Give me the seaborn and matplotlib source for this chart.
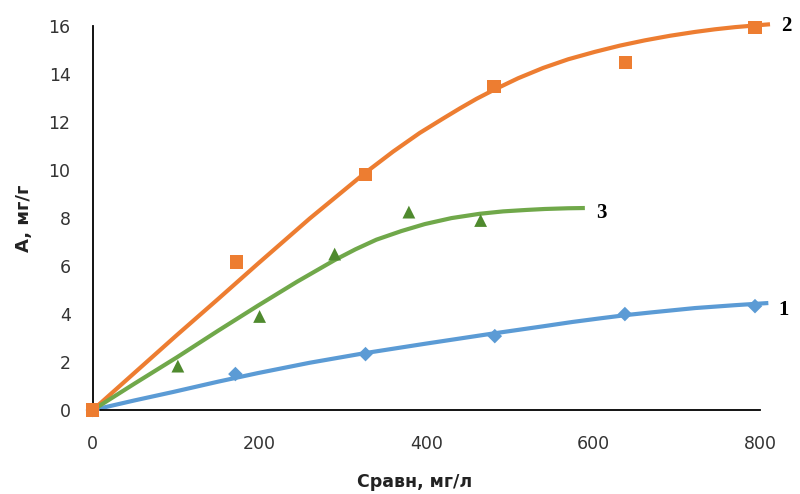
import numpy as np
import pandas as pd
import matplotlib
matplotlib.use("Agg")
import matplotlib.pyplot as plt
import seaborn as sns

# Sorption isotherms: equilibrium concentration vs. adsorption capacity
# measured points
x1 = [0, 171, 327, 482, 638, 794]
y1 = [0, 1.5, 2.33, 3.08, 4.0, 4.33]
x2 = [0, 172, 327, 481, 639, 794]
y2 = [0, 6.17, 9.83, 13.5, 14.5, 15.96]
x3 = [0, 102, 200, 290, 379, 465]
y3 = [0, 1.83, 3.9, 6.5, 8.25, 7.9]

# trendlines
fx1 = [0, 50, 96, 150, 198, 260, 326, 398, 440, 480, 540, 575, 608, 640, 670, 722, 770, 810]
fy1 = [0, 0.4, 0.75, 1.18, 1.54, 1.97, 2.37, 2.76, 2.98, 3.19, 3.49, 3.67, 3.82, 3.96, 4.07, 4.25, 4.37, 4.46]
fx2 = [0, 50, 100, 150, 198, 260, 326, 360, 392, 420, 440, 460, 480, 510, 540, 570,
       602, 632, 662, 692, 722, 746, 770, 794, 812]
fy2 = [0, 1.55, 3.1, 4.62, 6.1, 7.98, 9.87, 10.77, 11.55, 12.15, 12.57, 12.97, 13.33, 13.83,
       14.26, 14.62, 14.93, 15.19, 15.41, 15.6, 15.76, 15.87, 15.96, 16.03, 16.08]
fx3 = [0, 50, 101, 150, 198, 245, 290, 315, 340, 370, 398, 430, 464, 492, 520, 542, 570, 590]
fy3 = [0, 1.1, 2.2, 3.3, 4.35, 5.35, 6.25, 6.7, 7.1, 7.46, 7.75, 8.0, 8.18, 8.28, 8.34, 8.38, 8.41, 8.42]

xticks = [0, 200, 400, 600, 800]
yticks = [0, 2, 4, 6, 8, 10, 12, 14, 16]

colors = {"1": "#5B9BD5", "2": "#ED7D31", "3": "#70A84A"}
marker_colors = {"1": "#5B9BD5", "2": "#ED7D31", "3": "#4F8A2E"}
markers = {"1": "D", "2": "s", "3": "^"}
sizes = {"1": 55, "2": 90, "3": 85}

points = {"1": (x1, y1), "2": (x2, y2), "3": (x3, y3)}
fits = {"1": (fx1, fy1), "2": (fx2, fy2), "3": (fx3, fy3)}

pts = pd.concat(
    [pd.DataFrame({"x": xs, "y": ys, "s": k}) for k, (xs, ys) in points.items()],
    ignore_index=True,
)
curves = pd.concat(
    [pd.DataFrame({"x": xs, "y": ys, "s": k}) for k, (xs, ys) in fits.items()],
    ignore_index=True,
)

sns.set_theme(style="white")
plt.rcParams["font.family"] = ["DejaVu Sans"]

fig = plt.figure(figsize=(8, 4.94), dpi=100)
ax = fig.add_axes([0.116, 0.17, 0.834, 0.777])

sns.lineplot(data=curves, x="x", y="y", hue="s", palette=colors, linewidth=3,
             legend=False, ax=ax, sort=False, estimator=None, clip_on=False,
             zorder=2, solid_joinstyle="round", solid_capstyle="butt")

for k in ["1", "3", "2"]:
    d = pts[pts.s == k]
    sns.scatterplot(data=d, x="x", y="y", marker=markers[k], s=sizes[k],
                    color=marker_colors[k], edgecolor="none", linewidth=0,
                    ax=ax, legend=False, clip_on=False, zorder=3)

ax.set_xlim(0, 800)
ax.set_ylim(0, 16)
ax.set_xticks(xticks)
ax.set_yticks(yticks)
ax.tick_params(axis="both", direction="in", length=7, width=1.2, color="black",
               labelsize=12.5, labelcolor="#333333")
ax.tick_params(axis="y", pad=16)
ax.tick_params(axis="x", pad=18)

for side in ["top", "right"]:
    ax.spines[side].set_visible(False)
for side in ["left", "bottom"]:
    ax.spines[side].set_color("black")
    ax.spines[side].set_linewidth(1.3)

ax.set_xlabel("Сравн, мг/л", fontsize=12.5, fontweight="bold", color="#222222",
              va="center")
ax.xaxis.set_label_coords(0.483, -0.188)
ax.set_ylabel("A, мг/г", fontsize=13, fontweight="bold", color="#222222",
              va="center")
ax.yaxis.set_label_coords(-0.103, 0.5)

# curve numbers
lab = dict(fontsize=15, fontweight="bold", family=["Liberation Serif"], color="black",
           va="center", ha="left", clip_on=False)
ax.text(825, 16.0, "2", **lab)
ax.text(603, 8.2, "3", **lab)
ax.text(822, 4.15, "1", **lab)

fig.savefig("out.png", dpi=100)
